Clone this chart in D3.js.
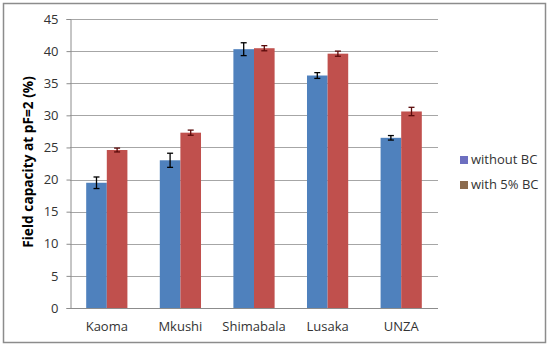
<!DOCTYPE html>
<html>
<head>
<meta charset="utf-8">
<script src="https://cdn.jsdelivr.net/npm/d3@7"></script>
<style>
  body { margin: 0; background: #fff; }
  svg { display: block; }
</style>
</head>
<body>
<div id="chart"></div>
<script>
// ---- data ----
const sites = ['Kaoma', 'Mkushi', 'Shimabala', 'Lusaka', 'UNZA']
const seriesNames = ['without BC', 'with 5% BC']
const withoutBC = [19.5, 23.0, 40.3, 36.2, 26.5]
const withoutBCErr = [0.9, 1.1, 1.0, 0.45, 0.35]
const with5BC = [24.6, 27.3, 40.45, 39.6, 30.6]
const with5BCErr = [0.3, 0.4, 0.4, 0.4, 0.65]
const yTicks = [0, 5, 10, 15, 20, 25, 30, 35, 40, 45]

const width = 550
const height = 346
const margin = { top: 19, right: 112, bottom: 38, left: 70 }
const font = '"Open Sans", sans-serif'
const barColors = ['#4F81BD', '#C0504D']
const errColors = ['#000000', '#5A0A0A']
const legendColors = ['#6D6FC0', '#8B6B4E']

const svg = d3.select('#chart').append('svg')
  .attr('width', width)
  .attr('height', height)

// outer frame
svg.append('rect')
  .attr('x', 3.5).attr('y', 3.5)
  .attr('width', 542).attr('height', 339)
  .attr('fill', '#fff')
  .attr('stroke', '#8C8C8C')
  .attr('stroke-width', 1.5)

const x0 = d3.scaleBand()
  .domain(sites)
  .range([margin.left, width - margin.right])
  .paddingInner(0.44)
  .paddingOuter(0.22)

const x1 = d3.scaleBand()
  .domain(seriesNames)
  .range([0, x0.bandwidth()])

const y = d3.scaleLinear()
  .domain([0, 45])
  .range([height - margin.bottom, margin.top])

// gridlines
svg.append('g')
  .selectAll('line')
  .data(yTicks.filter(d => d > 0))
  .join('line')
  .attr('x1', margin.left).attr('x2', width - margin.right)
  .attr('y1', d => Math.round(y(d)) + 0.5).attr('y2', d => Math.round(y(d)) + 0.5)
  .attr('stroke', '#A6A6A6')

// y axis
svg.append('g')
  .attr('transform', `translate(${margin.left + 0.5},0)`)
  .call(d3.axisLeft(y).tickValues(yTicks).tickSize(4).tickPadding(8).tickFormat(d3.format('d')))
  .call(g => {
    g.select('.domain').attr('stroke', '#8C8C8C')
    g.selectAll('.tick line').attr('stroke', '#8C8C8C')
    g.selectAll('.tick text')
      .attr('fill', '#333').attr('font-size', '13px').attr('font-family', font)
  })

// bars
const rows = sites.map((s, i) => ({
  site: s,
  vals: [
    { name: seriesNames[0], v: withoutBC[i], e: withoutBCErr[i], k: 0 },
    { name: seriesNames[1], v: with5BC[i], e: with5BCErr[i], k: 1 }
  ]
}))

const groups = svg.append('g').selectAll('g')
  .data(rows)
  .join('g')
  .attr('transform', d => `translate(${x0(d.site)},0)`)

groups.selectAll('rect')
  .data(d => d.vals)
  .join('rect')
  .attr('x', d => x1(d.name))
  .attr('width', x1.bandwidth())
  .attr('y', d => y(d.v))
  .attr('height', d => y(0) - y(d.v))
  .attr('fill', d => barColors[d.k])

// error bars
const err = groups.selectAll('g.err')
  .data(d => d.vals)
  .join('g')
  .attr('class', 'err')
  .attr('stroke', d => errColors[d.k])
  .attr('stroke-width', 1.3)

err.append('line')
  .attr('x1', d => x1(d.name) + x1.bandwidth() / 2)
  .attr('x2', d => x1(d.name) + x1.bandwidth() / 2)
  .attr('y1', d => y(d.v + d.e))
  .attr('y2', d => y(d.v - d.e))

err.selectAll('line.cap')
  .data(d => [[d, d.v + d.e], [d, d.v - d.e]])
  .join('line')
  .attr('class', 'cap')
  .attr('x1', ([d]) => x1(d.name) + x1.bandwidth() / 2 - 3)
  .attr('x2', ([d]) => x1(d.name) + x1.bandwidth() / 2 + 3)
  .attr('y1', ([, v]) => y(v))
  .attr('y2', ([, v]) => y(v))

// x axis
svg.append('g')
  .attr('transform', `translate(0,${y(0) + 0.5})`)
  .call(d3.axisBottom(x0).tickSize(0).tickPadding(13))
  .call(g => {
    g.select('.domain').attr('stroke', '#8C8C8C')
      .attr('d', `M${margin.left},0H${width - margin.right}`)
    g.selectAll('.tick text')
      .attr('fill', '#333').attr('font-size', '13px').attr('font-family', font)
  })

// y axis label
svg.append('text')
  .attr('transform', `translate(33,${162}) rotate(-90)`)
  .attr('text-anchor', 'middle')
  .attr('font-size', '13.7px')
  .attr('font-weight', 'bold')
  .attr('font-family', font)
  .attr('fill', '#000')
  .text('Field capacity at pF=2 (%)')

// legend
const legend = svg.append('g')
  .selectAll('g')
  .data(seriesNames)
  .join('g')
  .attr('transform', (d, i) => `translate(460,${156 + i * 25})`)

legend.append('rect')
  .attr('width', 8).attr('height', 8)
  .attr('fill', (d, i) => legendColors[i])

legend.append('text')
  .attr('x', 11).attr('y', 8)
  .attr('font-size', '13px')
  .attr('font-family', font)
  .attr('fill', '#333')
  .text(d => d)
</script>
</body>
</html>
